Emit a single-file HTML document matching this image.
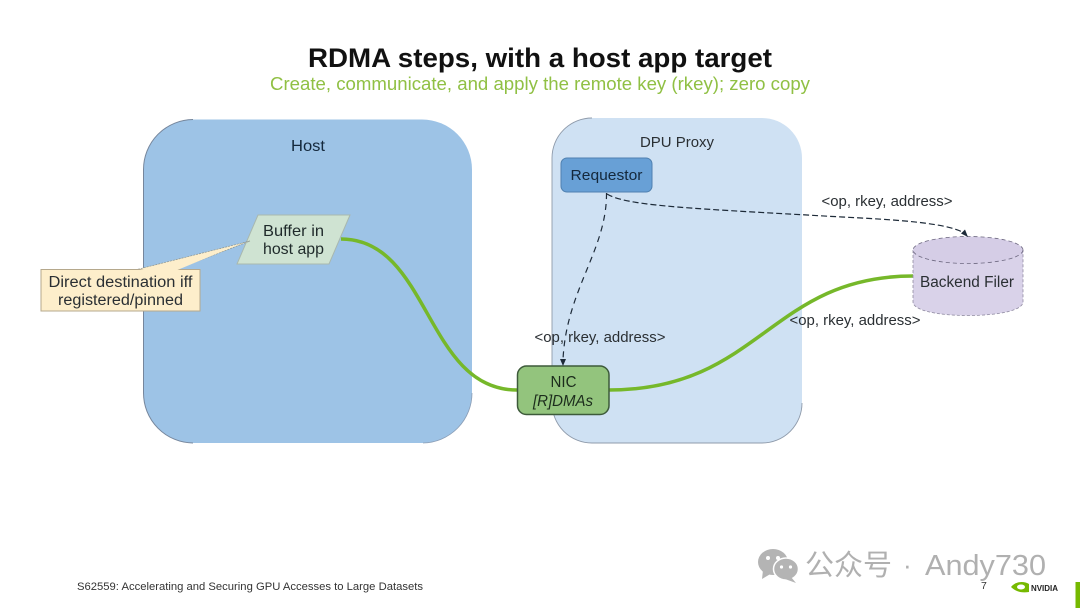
<!DOCTYPE html>
<html><head><meta charset="utf-8"><style>
html,body{margin:0;padding:0;background:#fff;width:1080px;height:608px;overflow:hidden}
svg{display:block}
text{font-family:"Liberation Sans","Noto Sans CJK SC",sans-serif;fill:#2a2f33}
</style></head><body>
<svg width="1080" height="608" viewBox="0 0 1080 608" xmlns="http://www.w3.org/2000/svg">
<rect width="1080" height="608" fill="#fff"/>
<text x="540" y="67" text-anchor="middle" font-size="27" font-weight="700" textLength="464" lengthAdjust="spacingAndGlyphs" style="fill:#111">RDMA steps, with a host app target</text>
<text x="540" y="90" text-anchor="middle" font-size="18.500" textLength="540" lengthAdjust="spacingAndGlyphs" style="fill:#90c044">Create, communicate, and apply the remote key (rkey); zero copy</text>

<rect x="143.500" y="119.500" width="328.500" height="323.500" rx="50" fill="#9dc3e6"/>
<path d="M193 119.500 A50 50 0 0 0 143.500 169.500 V393 A50 50 0 0 0 193 443" fill="none" stroke="#76869c" stroke-width="1"/>
<path d="M472 393 A50 50 0 0 1 423 443" fill="none" stroke="#8a9db5" stroke-width="0.800"/>
<rect x="552" y="118" width="250" height="325" rx="40" fill="#cfe1f3"/>
<path d="M592 118 A40 40 0 0 0 552 158 V403 A40 40 0 0 0 592 443 H762 A40 40 0 0 0 802 403" fill="none" stroke="#8f9bab" stroke-width="0.900"/>
<text x="308" y="151" text-anchor="middle" font-size="15.500" textLength="34" lengthAdjust="spacingAndGlyphs" style="fill:#14283c">Host</text>
<text x="677" y="147" text-anchor="middle" font-size="15" textLength="74" lengthAdjust="spacingAndGlyphs">DPU Proxy</text>

<rect x="561" y="158" width="91" height="34" rx="6" fill="#68a0d6" stroke="#4f80b0" stroke-width="1"/>
<text x="606.500" y="180" text-anchor="middle" font-size="15" textLength="72" lengthAdjust="spacingAndGlyphs" style="fill:#14283c">Requestor</text>

<path d="M341 239 C430 239 425 390 517 390" fill="none" stroke="#76b82a" stroke-width="3.500"/>
<path d="M609 390 C760 390 770 276 913 276" fill="none" stroke="#76b82a" stroke-width="3.500"/>

<polygon points="258,215 350,215 329,264 237,264" fill="#cfe3d2" stroke="#a9b8ae" stroke-width="1"/>
<text x="293.500" y="236" text-anchor="middle" font-size="16" textLength="61" lengthAdjust="spacingAndGlyphs" style="fill:#1f2a2a">Buffer in</text>
<text x="293.500" y="254" text-anchor="middle" font-size="16" textLength="61" lengthAdjust="spacingAndGlyphs" style="fill:#1f2a2a">host app</text>

<polygon points="135,270 250,241 175,270" fill="#fdeecb" stroke="#8d9590" stroke-width="0.700" stroke-dasharray="2 1"/>
<rect x="41" y="269.500" width="159" height="41.500" fill="#fdeecb" stroke="#b5a88c" stroke-width="1"/>
<polygon points="136,271 240,244 175,271" fill="#fdeecb"/>
<text x="120.500" y="287" text-anchor="middle" font-size="15.500" textLength="144" lengthAdjust="spacingAndGlyphs">Direct destination iff</text>
<text x="120.500" y="305" text-anchor="middle" font-size="15.500" textLength="125" lengthAdjust="spacingAndGlyphs">registered/pinned</text>

<rect x="517.500" y="366" width="91.500" height="48.500" rx="9" fill="#93c47d" stroke="#3d5a3a" stroke-width="1.500"/>
<text x="563.500" y="387" text-anchor="middle" font-size="15.500" textLength="26" lengthAdjust="spacingAndGlyphs" style="fill:#1c2c1c">NIC</text>
<text x="563" y="406" text-anchor="middle" font-size="15.500" font-style="italic" textLength="60" lengthAdjust="spacingAndGlyphs" style="fill:#1c2c1c">[R]DMAs</text>

<path d="M913 250 V302 C913 310 936 315.500 968 315.500 C1000 315.500 1023 310 1023 302 V250" fill="#d9d2e9" stroke="#8f8aa0" stroke-width="0.800" stroke-dasharray="3 2"/>
<ellipse cx="968" cy="250" rx="55" ry="13.500" fill="#d5cde6" stroke="#6d6880" stroke-width="0.800" stroke-dasharray="4 3"/>
<text x="967" y="287" text-anchor="middle" font-size="15.500" textLength="94" lengthAdjust="spacingAndGlyphs">Backend Filer</text>

<path d="M606.500 193 C607 250 566 290 563 360" fill="none" stroke="#1d2a38" stroke-width="1.200" stroke-dasharray="6 5"/>
<polygon points="563,366 560,359 566,359" fill="#1d2a38"/>
<path d="M607 194 C625 205 680 208 807 215 C870 219 945 220 966 234" fill="none" stroke="#1d2a38" stroke-width="1.200" stroke-dasharray="6 3"/>
<polygon points="968,237 961,233.500 965,229.500" fill="#1d2a38"/>

<text x="887" y="206" text-anchor="middle" font-size="14.500" textLength="131" lengthAdjust="spacingAndGlyphs">&lt;op, rkey, address&gt;</text>
<text x="855" y="325" text-anchor="middle" font-size="14.500" textLength="131" lengthAdjust="spacingAndGlyphs">&lt;op, rkey, address&gt;</text>
<text x="600" y="342" text-anchor="middle" font-size="14.500" textLength="131" lengthAdjust="spacingAndGlyphs">&lt;op, rkey, address&gt;</text>

<text x="77" y="590" font-size="11" textLength="346" lengthAdjust="spacingAndGlyphs" style="fill:#333">S62559: Accelerating and Securing GPU Accesses to Large Datasets</text>

<!-- watermark -->
<ellipse cx="773" cy="562" rx="15" ry="13" fill="#b4b4b4"/>
<polygon points="763,570 762,579 772,573" fill="#b4b4b4"/>
<circle cx="768" cy="558" r="2" fill="#fff"/><circle cx="778" cy="558" r="2" fill="#fff"/>
<ellipse cx="786" cy="569" rx="12.500" ry="11" fill="#b4b4b4" stroke="#fff" stroke-width="1.500"/>
<polygon points="791,577 796,583 785,579" fill="#b4b4b4"/>
<circle cx="781.500" cy="567" r="1.600" fill="#fff"/><circle cx="790.500" cy="567" r="1.600" fill="#fff"/>
<text x="805" y="575" font-size="29" textLength="87" lengthAdjust="spacingAndGlyphs" style="fill:#b0b0b0">公众号</text>
<text x="903" y="574" font-size="26" style="fill:#b0b0b0">·</text>
<text x="925" y="575" font-size="29" textLength="121" lengthAdjust="spacingAndGlyphs" style="fill:#b0b0b0">Andy730</text>

<text x="981" y="589" font-size="10.500" style="fill:#333">7</text>
<path d="M1011 587 C1016 581 1024 581 1029 584 L1029 592 C1022 593 1016 592 1011 587Z" fill="#76b900"/>
<ellipse cx="1021" cy="587" rx="4" ry="2.500" fill="#fff"/>
<text x="1031" y="591" font-size="8" font-weight="700" textLength="27" lengthAdjust="spacingAndGlyphs" style="fill:#222">NVIDIA</text>
<rect x="1075.500" y="582" width="4.500" height="26" fill="#76b900"/>
</svg>
</body></html>
